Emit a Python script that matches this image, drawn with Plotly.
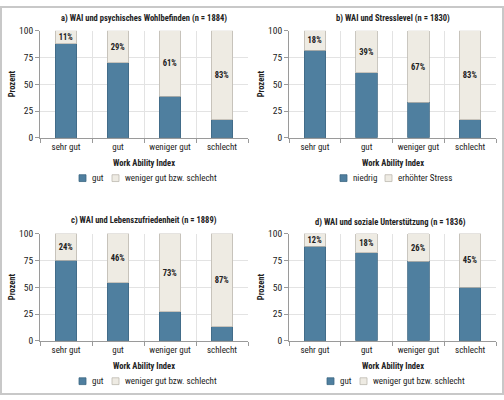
import plotly.graph_objects as go

categories = ["sehr gut", "gut", "weniger gut", "schlecht"]

titles = [
    "a) WAI und psychisches Wohlbefinden (n = 1884)",
    "b) WAI und Stresslevel (n = 1830)",
    "c) WAI und Lebenszufriedenheit (n = 1889)",
    "d) WAI und soziale Unterstützung (n = 1836)",
]
legend_low = ["gut", "niedrig", "gut", "gut"]
legend_high = ["weniger gut bzw. schlecht", "erhöhter Stress",
               "weniger gut bzw. schlecht", "weniger gut bzw. schlecht"]

a_low = [88, 70, 39, 17]
a_high = [12, 30, 61, 83]
a_labels = ["11%", "29%", "61%", "83%"]

b_low = [82, 61, 33, 17]
b_high = [18, 39, 67, 83]
b_labels = ["18%", "39%", "67%", "83%"]

c_low = [75, 54, 27, 13]
c_high = [25, 46, 73, 87]
c_labels = ["24%", "46%", "73%", "87%"]

d_low = [88, 82, 74, 50]
d_high = [12, 18, 26, 50]
d_labels = ["12%", "18%", "26%", "45%"]

y_ticks = [0, 25, 50, 75, 100]

lows = [a_low, b_low, c_low, d_low]
highs = [a_high, b_high, c_high, d_high]
labels = [a_labels, b_labels, c_labels, d_labels]

W, H = 504, 400
BLUE = "#4f7f9f"
BLUE_EDGE = "#3e6883"
BEIGE = "#eeebe3"
BEIGE_EDGE = "#bdb9b0"
FONT = "Roboto Condensed, DejaVu Sans Condensed, sans-serif"
TXT = "#222222"

# pixel geometry of panels: (left, right, top, bottom)
panels = [
    (40, 248, 25.5, 135.5),
    (289, 496, 25.5, 135.5),
    (40, 248, 234, 344.3),
    (289, 496, 234, 344.3),
]
# title / x-title centres (px)
title_cx = [143.5, 393, 144, 390.5]
xtitle_cx = [144, 393, 144, 392.5]
title_y = [13, 13, 220.5, 222.5]
# legend pixel layout per panel: (swatch1_x, text1_x, swatch2_x, text2_x)
legend_pos = [
    (79, 90, 112, 123),
    (340, 351, 385, 396),
    (79, 90, 112, 123),
    (327, 338, 360, 371),
]

fig = go.Figure()
layout = dict(
    width=W, height=H,
    margin=dict(l=0, r=0, t=0, b=0),
    paper_bgcolor="white", plot_bgcolor="white",
    barmode="stack", bargap=0.58,
    font=dict(family=FONT, size=9, color=TXT),
    showlegend=False,
)
annotations = []
shapes = []

for i in range(4):
    l, r, t, b = panels[i]
    sfx = "" if i == 0 else str(i + 1)
    xa, ya = "x" + sfx, "y" + sfx
    fig.add_trace(go.Bar(
        x=categories, y=lows[i], name=legend_low[i], xaxis=xa, yaxis=ya,
        marker=dict(color=BLUE, line=dict(color=BLUE_EDGE, width=0.8)),
        hoverinfo="skip",
    ))
    fig.add_trace(go.Bar(
        x=categories, y=highs[i], name=legend_high[i], xaxis=xa, yaxis=ya,
        marker=dict(color=BEIGE, line=dict(color=BEIGE_EDGE, width=0.8)),
        text=labels[i], textposition="inside", insidetextanchor="middle",
        textangle=0, constraintext="none",
        textfont=dict(family=FONT, size=8.5, color=TXT, weight="bold"),
        hoverinfo="skip",
    ))
    layout["xaxis" + sfx] = dict(
        domain=[l / W, r / W], anchor=ya, type="category",
        tickson="boundaries", showgrid=True, gridcolor="#e3e3e3", gridwidth=1,
        ticks="outside", ticklen=4, tickcolor="#9a9a9a", tickangle=0,
        showline=True, linecolor="#9a9a9a", linewidth=1,
        tickfont=dict(size=9, color=TXT), fixedrange=True,
    )
    layout["yaxis" + sfx] = dict(
        domain=[1 - b / H, 1 - t / H], anchor=xa, range=[0, 100],
        tickvals=y_ticks, showgrid=True, gridcolor="#e3e3e3", gridwidth=1,
        zeroline=False, ticks="outside", ticklen=4, tickcolor="#9a9a9a",
        showline=True, linecolor="#9a9a9a", linewidth=1,
        tickfont=dict(size=9.5, color=TXT), fixedrange=True,
    )
    annotations.append(dict(
        text="<b>" + titles[i] + "</b>", x=title_cx[i] / W, y=1 - title_y[i] / H,
        xref="paper", yref="paper", showarrow=False, xanchor="center",
        yanchor="middle", font=dict(size=8.5, color=TXT)))
    annotations.append(dict(
        text="<b>Work Ability Index</b>", x=xtitle_cx[i] / W, y=1 - (b + 25.5) / H,
        xref="paper", yref="paper", showarrow=False, xanchor="center",
        yanchor="middle", font=dict(size=8.5, color=TXT)))
    annotations.append(dict(
        text="<b>Prozent</b>", x=(l - 28) / W, y=1 - ((t + b) / 2) / H,
        xref="paper", yref="paper", showarrow=False, xanchor="center",
        yanchor="middle", textangle=-90, font=dict(size=8.5, color=TXT)))
    # manual legend
    s1, t1, s2, t2 = legend_pos[i]
    ly = b + 41.5
    for sx, tx, fill, edge, name in [(s1, t1, BLUE, BLUE_EDGE, legend_low[i]),
                                     (s2, t2, BEIGE, BEIGE_EDGE, legend_high[i])]:
        shapes.append(dict(
            type="rect", xref="paper", yref="paper",
            x0=sx / W, x1=(sx + 7) / W, y0=1 - (ly + 3.5) / H, y1=1 - (ly - 3.5) / H,
            fillcolor=fill, line=dict(color=edge, width=0.8)))
        annotations.append(dict(
            text=name, x=tx / W, y=1 - ly / H, xref="paper", yref="paper",
            showarrow=False, xanchor="left", yanchor="middle",
            font=dict(size=9, color=TXT)))

shapes.append(dict(
    type="rect", xref="paper", yref="paper",
    x0=1 / W, x1=1 - 1 / W, y0=1 / H, y1=1 - 1 / H,
    line=dict(color="#c8c8c8", width=2), fillcolor="rgba(0,0,0,0)"))
layout["annotations"] = annotations
layout["shapes"] = shapes
fig.update_layout(**layout)
fig.write_html("out.html", config={"displayModeBar": False, "staticPlot": True},
               post_script="document.body.style.margin='0';document.body.style.overflow='hidden';")
